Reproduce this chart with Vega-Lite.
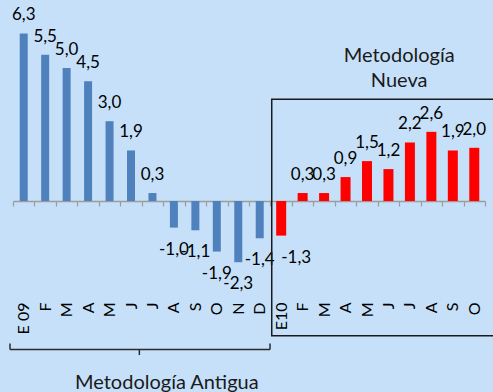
{
  "$schema": "https://vega.github.io/schema/vega-lite/v6.json",
  "width": 472,
  "height": 286,
  "autosize": {"type": "none"},
  "padding": {"left": 13, "top": 10, "right": 8, "bottom": 96},
  "background": "#C6E0F9",
  "config": {
    "view": {"stroke": null},
    "font": "Lato",
    "locale": {
      "number": {"decimal": ",", "thousands": ".", "grouping": [3], "currency": ["", " €"], "minus": "-"}
    }
  },
  "datasets": {
    "meses": [
      {"k": "E 09", "v": 6.3, "s": "antigua"},
      {"k": "F-09", "v": 5.5, "s": "antigua"},
      {"k": "M-09", "v": 5.0, "s": "antigua"},
      {"k": "A-09", "v": 4.5, "s": "antigua"},
      {"k": "My-09", "v": 3.0, "s": "antigua"},
      {"k": "J-09", "v": 1.9, "s": "antigua"},
      {"k": "Jl-09", "v": 0.3, "s": "antigua"},
      {"k": "Ag-09", "v": -1.0, "s": "antigua"},
      {"k": "S-09", "v": -1.1, "s": "antigua"},
      {"k": "O-09", "v": -1.9, "s": "antigua"},
      {"k": "N-09", "v": -2.3, "s": "antigua"},
      {"k": "D-09", "v": -1.4, "s": "antigua"},
      {"k": "E10", "v": -1.3, "s": "nueva"},
      {"k": "F-10", "v": 0.3, "s": "nueva"},
      {"k": "M-10", "v": 0.3, "s": "nueva"},
      {"k": "A-10", "v": 0.9, "s": "nueva"},
      {"k": "My-10", "v": 1.5, "s": "nueva"},
      {"k": "J-10", "v": 1.2, "s": "nueva"},
      {"k": "Jl-10", "v": 2.2, "s": "nueva"},
      {"k": "Ag-10", "v": 2.6, "s": "nueva"},
      {"k": "S-10", "v": 1.9, "s": "nueva"},
      {"k": "O-10", "v": 2.0, "s": "nueva"}
    ]
  },
  "layer": [
    {
      "data": {"name": "meses"},
      "encoding": {
        "x": {
          "field": "k",
          "type": "nominal",
          "sort": null,
          "scale": {"paddingInner": 0, "paddingOuter": 0},
          "axis": {
            "title": null,
            "offset": -95,
            "labelAngle": -90,
            "labelAlign": "right",
            "labelBaseline": "middle",
            "labelPadding": 96,
            "labelFontSize": 16,
            "labelColor": "#000000",
            "labelExpr": "datum.value == null ? '' : (split(datum.value, '-')[0] == 'My' ? 'M' : (split(datum.value, '-')[0] == 'Jl' ? 'J' : (split(datum.value, '-')[0] == 'Ag' ? 'A' : split(datum.value, '-')[0])))",
            "tickBand": "extent",
            "tickSize": 5,
            "tickColor": "#9C9C9C",
            "tickWidth": 1.2,
            "domainColor": "#9C9C9C",
            "domainWidth": 1.5
          }
        },
        "y": {
          "field": "v",
          "type": "quantitative",
          "scale": {"domain": [-3.57, 7.18], "nice": false, "zero": false},
          "axis": null
        }
      },
      "layer": [
        {
          "mark": {"type": "bar"},
          "encoding": {
            "y2": {"datum": 0},
            "color": {
              "field": "s",
              "type": "nominal",
              "scale": {"domain": ["antigua", "nueva"], "range": ["#4F81BD", "#FF0000"]},
              "legend": null
            },
            "size": {"condition": {"test": "datum.s == 'nueva'", "value": 10}, "value": 8}
          }
        },
        {
          "transform": [{"filter": "datum.v >= 0"}],
          "mark": {"type": "text", "baseline": "alphabetic", "dy": -13, "fontSize": 17, "color": "#000000"},
          "encoding": {"text": {"field": "v", "type": "quantitative", "format": ".1f"}}
        },
        {
          "transform": [{"filter": "datum.v < 0 && datum.k != 'E10'"}],
          "mark": {"type": "text", "baseline": "alphabetic", "dy": 27, "fontSize": 17, "color": "#000000"},
          "encoding": {"text": {"field": "v", "type": "quantitative", "format": ".1f"}}
        },
        {
          "transform": [{"filter": "datum.k == 'E10'"}],
          "mark": {"type": "text", "baseline": "alphabetic", "dy": 27, "dx": 15, "fontSize": 17, "color": "#000000"},
          "encoding": {"text": {"field": "v", "type": "quantitative", "format": ".1f"}}
        }
      ]
    },
    {
      "encoding": {
        "x": {"type": "quantitative", "scale": {"domain": [0, 22], "nice": false, "zero": false}, "axis": null},
        "y": {"type": "quantitative", "axis": null}
      },
      "layer": [
        {
          "data": {"values": [{"x": 12.06, "x2": 23.5, "y": 3.83, "y2": -5.06}]},
          "mark": {"type": "rect", "filled": false, "stroke": "#1A1A1A", "strokeWidth": 1.5},
          "encoding": {
            "x": {"field": "x", "type": "quantitative"},
            "x2": {"field": "x2"},
            "y": {"field": "y", "type": "quantitative"},
            "y2": {"field": "y2"}
          }
        },
        {
          "data": {"values": [
            {"x": -0.14, "x2": -0.14, "y": -5.36, "y2": -5.58},
            {"x": -0.14, "x2": 11.98, "y": -5.58, "y2": -5.58},
            {"x": 11.98, "x2": 11.98, "y": -5.36, "y2": -5.58},
            {"x": 5.89, "x2": 5.89, "y": -5.58, "y2": -5.79}
          ]},
          "mark": {"type": "rule", "stroke": "#2A2A2A", "strokeWidth": 1.5},
          "encoding": {
            "x": {"field": "x", "type": "quantitative"},
            "x2": {"field": "x2"},
            "y": {"field": "y", "type": "quantitative"},
            "y2": {"field": "y2"}
          }
        },
        {
          "data": {"values": [
            {"x": 7.17, "y": -7.07, "t": "Metodología Antigua"},
            {"x": 18.0, "y": 5.24, "t": "Metodología"},
            {"x": 18.0, "y": 4.27, "t": "Nueva"}
          ]},
          "mark": {"type": "text", "baseline": "alphabetic", "align": "center", "fontSize": 20, "color": "#1A1A1A"},
          "encoding": {
            "x": {"field": "x", "type": "quantitative"},
            "y": {"field": "y", "type": "quantitative"},
            "text": {"field": "t"}
          }
        }
      ]
    }
  ],
  "resolve": {"scale": {"x": "independent"}}
}
